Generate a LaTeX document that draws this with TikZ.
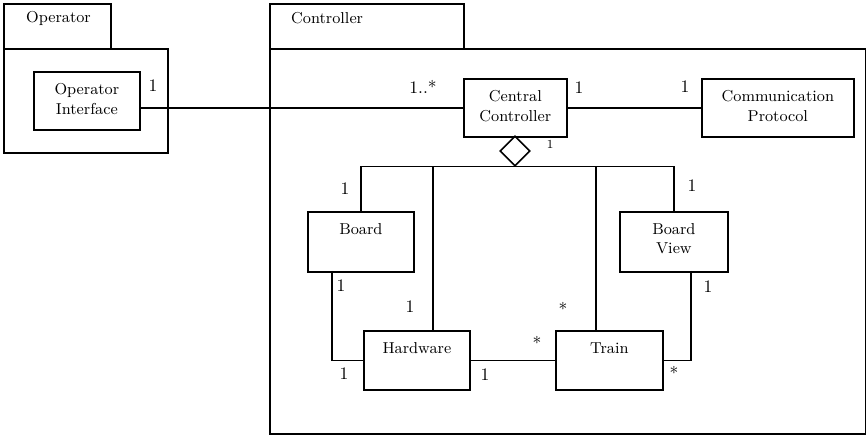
\documentclass[tikz,border=0pt]{standalone}
\usetikzlibrary{shapes.geometric}

\begin{document}
\begin{tikzpicture}[x=0.02cm, y=-0.02cm,
    pkg/.style={draw, line width=0.9pt, anchor=north west, inner sep=0pt},
    cls/.style={draw, line width=1pt, anchor=north west, inner sep=0pt, minimum height=1.18cm,
      label={[anchor=north, align=center, font=\small, inner sep=0pt, yshift=-7pt]north:#1}},
    mult/.style={font=\normalsize, inner sep=0pt},
    link/.style={line width=0.8pt}
  ]
    \useasboundingbox (0,0) rectangle (866,435);

    % packages
    \node[pkg, minimum width=2.14cm, minimum height=0.9cm] (optab) at (3,3) {};
    \node[pkg, minimum width=3.28cm, minimum height=2.08cm] (opbody) at (3,48) {};
    \node[font=\small, anchor=west] (opname) at (20,18) {Operator};
    \node[pkg, minimum width=3.88cm, minimum height=0.9cm] (ctab) at (269,3) {};
    \node[pkg, minimum width=11.92cm, minimum height=7.7cm] (cbody) at (269,48) {};
    \node[font=\small, anchor=west] (cname) at (285,18) {Controller};

    % classes
    \node[cls={Operator\\Interface}, minimum width=2.12cm, minimum height=1.16cm] (opint) at (33,71) {};
    \node[cls={Central\\Controller}, minimum width=2.06cm, minimum height=1.16cm] (central) at (463,78) {};
    \node[cls={Communication\\Protocol}, minimum width=3.04cm, minimum height=1.16cm] (comm) at (701,78) {};
    \node[cls={Board}, minimum width=2.12cm, minimum height=1.2cm] (board) at (307,211) {};
    \node[cls={Board\\View}, minimum width=2.16cm, minimum height=1.2cm] (bview) at (619,211) {};
    \node[cls={Hardware}, minimum width=2.12cm, minimum height=1.18cm] (hw) at (363,330) {};
    \node[cls={Train}, minimum width=2.14cm, minimum height=1.18cm] (train) at (555,330) {};

    % aggregation
    \node[diamond, draw, line width=0.9pt, minimum size=0.6cm, inner sep=0pt] (agg) at (515,151) {};
    \coordinate (hwtop) at (433,330);
    \coordinate (traintop) at (596,330);
    \coordinate (boardbot) at (332,271);
    \coordinate (bviewbot) at (691,271);

    \draw[link] (opint.east |- central.west) -- (central.west);
    \draw[link] (central.east) -- (comm.west);
    \draw[link] (agg.south) -| (board.north);
    \draw[link] (agg.south) -| (bview.north);
    \draw[link] (agg.south) -| (hwtop);
    \draw[link] (agg.south) -| (traintop);
    \draw[link] (boardbot) |- (hw.west);
    \draw[link] (hw.east) -- (train.west);
    \draw[link] (bviewbot) |- (train.east);

    % multiplicities
    \node[mult] (m1) at (153,86) {1};
    \node[mult] (m2) at (423,87) {1..*};
    \node[mult] (m3) at (579,88) {1};
    \node[mult] (m4) at (685,87) {1};
    \node[mult, font=\scriptsize] (m5) at (550,144) {1};
    \node[mult] (m6) at (345,189) {1};
    \node[mult] (m7) at (692,186) {1};
    \node[mult] (m8) at (341,286) {1};
    \node[mult] (m9) at (410,307) {1};
    \node[mult] (m10) at (563,309) {*};
    \node[mult] (m11) at (708,287) {1};
    \node[mult] (m12) at (344,374) {1};
    \node[mult] (m13) at (485,375) {1};
    \node[mult] (m14) at (537,343) {*};
    \node[mult] (m15) at (674,373) {*};
  \end{tikzpicture}
\end{document}
